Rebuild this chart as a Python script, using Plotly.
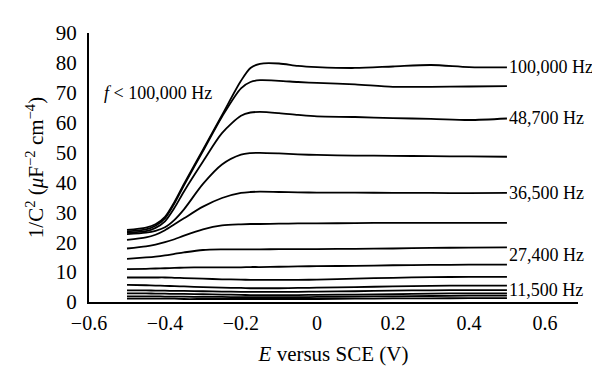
import plotly.graph_objects as go

# Potential (V vs SCE)
E = [-0.5, -0.45, -0.425, -0.4, -0.375, -0.35, -0.3, -0.25, -0.2, -0.175,
     -0.15, -0.1, -0.05, 0.0, 0.1, 0.2, 0.3, 0.4, 0.5]

# 1/C^2 series, highest frequency first
s_100000 = [24.1, 24.9, 26.0, 28.5, 33.5, 39.5, 51.0, 62.5, 74.0, 78.3, 79.7, 79.8, 79.0, 78.6, 78.3, 78.8, 79.3, 78.6, 78.5]
s_b = [23.6, 24.3, 25.5, 28.0, 33.0, 39.0, 50.5, 62.0, 71.5, 73.6, 74.2, 74.0, 73.6, 73.3, 72.8, 72.0, 72.0, 72.1, 72.2]
s_48700 = [23.2, 23.7, 24.8, 27.0, 31.5, 37.0, 47.0, 56.5, 62.3, 63.4, 63.6, 63.2, 62.6, 62.1, 61.9, 61.5, 61.3, 60.9, 61.4]
s_d = [22.7, 23.2, 23.8, 25.0, 27.5, 31.0, 39.5, 46.0, 49.3, 49.8, 49.9, 49.7, 49.4, 49.2, 49.0, 48.9, 48.8, 48.7, 48.6]
s_36500 = [20.8, 21.6, 22.5, 24.0, 26.0, 28.0, 31.9, 34.8, 36.5, 36.8, 36.9, 36.8, 36.7, 36.6, 36.6, 36.5, 36.5, 36.4, 36.5]
s_f = [17.9, 18.6, 19.2, 20.0, 21.0, 22.2, 24.3, 25.6, 26.0, 26.1, 26.1, 26.2, 26.3, 26.3, 26.4, 26.5, 26.5, 26.5, 26.5]
s_27400 = [14.4, 14.9, 15.2, 15.6, 16.1, 16.6, 17.4, 17.6, 17.6, 17.6, 17.6, 17.7, 17.7, 17.7, 17.8, 17.9, 18.1, 18.2, 18.3]
s_h = [11.0, 11.1, 11.2, 11.3, 11.4, 11.5, 11.6, 11.6, 11.6, 11.7, 11.7, 11.8, 11.9, 12.0, 12.1, 12.3, 12.4, 12.5, 12.5]
s_i = [8.2, 8.2, 8.2, 8.2, 8.1, 8.0, 7.8, 7.6, 7.5, 7.4, 7.4, 7.4, 7.4, 7.5, 7.8, 8.1, 8.3, 8.4, 8.4]
s_j = [5.7, 5.6, 5.5, 5.4, 5.3, 5.2, 5.0, 4.8, 4.7, 4.6, 4.6, 4.6, 4.7, 4.8, 5.0, 5.2, 5.4, 5.5, 5.5]
s_11500 = [3.9, 3.9, 3.8, 3.8, 3.7, 3.7, 3.6, 3.5, 3.4, 3.4, 3.4, 3.4, 3.4, 3.5, 3.6, 3.8, 3.9, 4.0, 4.0]
s_l = [2.9, 2.9, 2.8, 2.8, 2.7, 2.7, 2.6, 2.5, 2.4, 2.3, 2.3, 2.3, 2.3, 2.4, 2.5, 2.6, 2.8, 2.9, 2.9]
s_m = [1.9, 1.9, 1.9, 1.8, 1.8, 1.8, 1.7, 1.7, 1.6, 1.6, 1.6, 1.6, 1.6, 1.7, 1.8, 1.9, 2.0, 2.1, 2.1]
s_n = [1.1, 1.1, 1.1, 1.1, 1.1, 1.0, 1.0, 1.0, 1.0, 1.0, 1.0, 1.0, 1.0, 1.0, 1.1, 1.2, 1.2, 1.3, 1.3]

series = [s_100000, s_b, s_48700, s_d, s_36500, s_f, s_27400, s_h, s_i, s_j, s_11500, s_l, s_m, s_n]

# end labels: (series, text, vertical shift in px)
labels = [(s_100000, "100,000 Hz", 0), (s_48700, "48,700 Hz", 0), (s_36500, "36,500 Hz", 0),
          (s_27400, "27,400 Hz", -8), (s_11500, "11,500 Hz", 0)]

x_ticks = [-0.6, -0.4, -0.2, 0, 0.2, 0.4, 0.6]
x_ticktext = ["\u22120.6", "\u22120.4", "\u22120.2", "0", "0.2", "0.4", "0.6"]
y_ticks = [0, 10, 20, 30, 40, 50, 60, 70, 80, 90]

FONT = "Liberation Serif"

fig = go.Figure()
for s in series:
    fig.add_trace(go.Scatter(x=E, y=s, mode="lines",
                             line=dict(color="black", width=1.8, shape="spline", smoothing=0.8),
                             showlegend=False, hoverinfo="skip"))

for s, txt, sh in labels:
    fig.add_annotation(x=E[-1], y=s[-1], text=txt, showarrow=False, xanchor="left",
                       yanchor="middle", xshift=0, yshift=sh,
                       font=dict(family=FONT, size=18, color="black"))

fig.add_annotation(x=-0.565, y=70, text="<i>f</i> < 100,000 Hz", showarrow=False,
                   xanchor="left", yanchor="middle",
                   font=dict(family=FONT, size=18, color="black"))

fig.update_layout(
    width=600, height=390,
    margin=dict(l=81, r=30, t=25, b=96),
    paper_bgcolor="white", plot_bgcolor="white",
    font=dict(family=FONT, size=21, color="black"),
    xaxis=dict(range=[-0.6, 0.687], tickvals=x_ticks, ticktext=x_ticktext,
               showgrid=False, zeroline=False, showline=True, linecolor="black", linewidth=2,
               ticks="", ticklabelstandoff=2, tickfont=dict(size=20),
               title=dict(text="<i>E</i> versus SCE (V)", standoff=13,
                          font=dict(family=FONT, size=21))),
    yaxis=dict(range=[0, 90], tickvals=y_ticks,
               showgrid=False, zeroline=False, showline=True, linecolor="black", linewidth=2,
               ticks="", ticklabelstandoff=6,
               title=dict(text="1/C<sup>2</sup> (<i>\u03bc</i>F<sup>\u22122</sup> cm<sup>\u22124</sup>)",
                          standoff=6, font=dict(family=FONT, size=21))),
)

fig.write_html("out.html")
